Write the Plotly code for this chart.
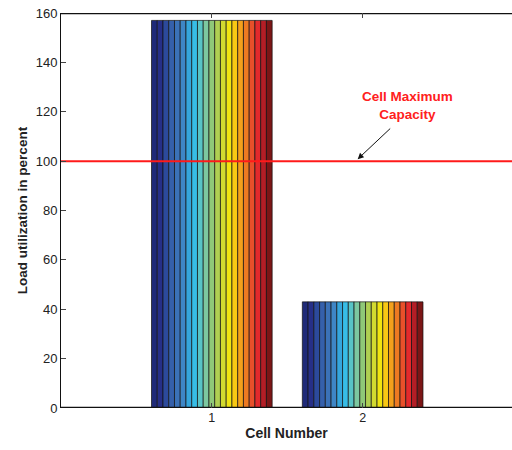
import plotly.graph_objects as go

cells = [1, 2]
n_series = 21
group1_value = 157
group2_value = 43
series_values = [[group1_value, group2_value] for _ in range(n_series)]
capacity = 100
y_ticks = [0, 20, 40, 60, 80, 100, 120, 140, 160]

colors = ["#1f2a78", "#262f88", "#2c4a9c", "#3560ab", "#3b72b8", "#3e86c6",
          "#35a6dc", "#37bde6", "#58c4c6", "#7cc8a0", "#8fc878", "#b0cf52",
          "#d2da30", "#f0e410", "#f8c814", "#f4a01c", "#ee7a22", "#e8502a",
          "#e32a2c", "#b41e26", "#7c1616"]

fig = go.Figure()
for i in range(n_series):
    fig.add_trace(go.Bar(
        x=cells, y=series_values[i],
        marker=dict(color=colors[i], line=dict(color="#111111", width=0.7)),
        showlegend=False))

fig.add_trace(go.Scatter(x=[0, 3], y=[capacity, capacity], mode="lines",
                         line=dict(color="#ff1a1a", width=2), showlegend=False,
                         hoverinfo="skip"))

# frame lines at the bottom and top of the axes box
for yy in (y_ticks[0], y_ticks[-1]):
    fig.add_trace(go.Scatter(x=[0, 3], y=[yy, yy], mode="lines",
                             line=dict(color="#111111", width=2.4),
                             showlegend=False, hoverinfo="skip"))

fig.add_annotation(x=2.298, y=122.5, text="<b>Cell Maximum<br>Capacity</b>",
                   showarrow=False, font=dict(color="#ff2020", size=13.5,
                   family="Liberation Sans, Arial"), align="center")
fig.add_annotation(x=1.967, y=100.8, text="", showarrow=True, ax=34, ay=-32,
                   arrowhead=2, arrowsize=1.2, arrowwidth=1, arrowcolor="#111111")

fig.update_layout(
    width=512, height=450,
    margin=dict(l=61, r=0, t=13, b=42, autoexpand=False),
    plot_bgcolor="white", paper_bgcolor="white",
    barmode="group", bargap=0.2, bargroupgap=0,
    font=dict(family="Liberation Sans, Arial", size=12, color="#222222"),
)
fig.update_xaxes(range=[0, 2.99], tickvals=cells, ticktext=["1", "2"],
                 ticks="inside", ticklen=5, showgrid=False, zeroline=False,
                 showline=False, mirror="ticks", automargin=False,
                 title=dict(text="<b>Cell Number</b>", font=dict(size=14), standoff=4),
                 tickfont=dict(size=12.5))
fig.update_yaxes(range=[0, 160], tickvals=y_ticks, ticks="inside", ticklen=5,
                 showgrid=False, zeroline=False, showline=True,
                 linecolor="#111111", linewidth=1, automargin=False,
                 title=dict(text="<b>Load utilization in percent</b>",
                            font=dict(size=13.5), standoff=4),
                 tickfont=dict(size=13))

fig.write_html("out.html", config={"displayModeBar": False},
               post_script="document.body.style.margin='0';document.body.style.overflow='hidden';")
